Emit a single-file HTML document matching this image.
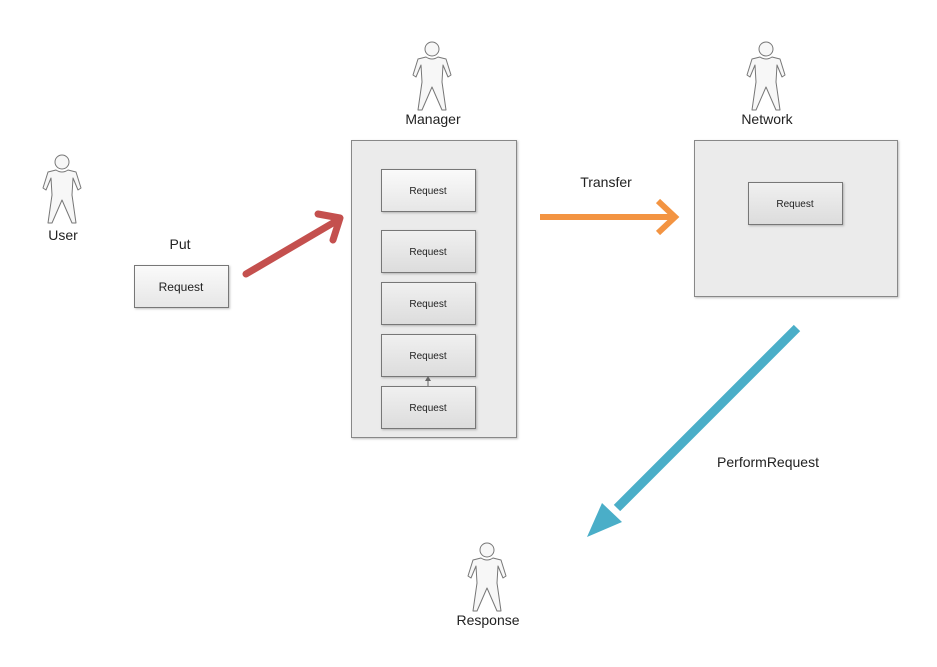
<!DOCTYPE html>
<html><head><meta charset="utf-8"><style>
html,body{margin:0;padding:0;background:#fff;}
svg{display:block;}
text{font-family:"Liberation Sans",sans-serif;fill:#222;}
</style></head><body>
<svg width="937" height="667" viewBox="0 0 937 667" xmlns="http://www.w3.org/2000/svg">
<defs>
<linearGradient id="rg" x1="0" y1="0" x2="0" y2="1"><stop offset="0" stop-color="#fafafa"/><stop offset="1" stop-color="#e6e6e6"/></linearGradient>
<linearGradient id="rg2" x1="0" y1="0" x2="0" y2="1"><stop offset="0" stop-color="#f0f0f0"/><stop offset="1" stop-color="#dcdcdc"/></linearGradient>
<g id="actor">
<circle cx="0" cy="0" r="7" fill="#f7f7f7" stroke="#777" stroke-width="1"/>
<path d="M-6,8 Q0,12 6,8 L14,10 L19,26 L16,28 L11,16 L10,33 L14,61 L10,61 L0,38 L-10,61 L-14,61 L-10,33 L-11,16 L-16,28 L-19,26 L-14,10 Z" fill="#f7f7f7" stroke="#777" stroke-width="1" stroke-linejoin="round"/>
</g>
<filter id="sh" x="-10%" y="-10%" width="130%" height="130%"><feDropShadow dx="1" dy="1" stdDeviation="1" flood-opacity="0.25"/></filter>
</defs>

<use href="#actor" x="432" y="49"/>
<text x="433" y="124" font-size="14" text-anchor="middle">Manager</text>
<use href="#actor" x="766" y="49"/>
<text x="767" y="124" font-size="14" text-anchor="middle">Network</text>
<use href="#actor" x="62" y="162"/>
<text x="63" y="240" font-size="14" text-anchor="middle">User</text>
<use href="#actor" x="487" y="550"/>
<text x="488" y="625" font-size="14" text-anchor="middle">Response</text>

<rect x="351.5" y="140.5" width="165" height="297" fill="#ebebeb" stroke="#888" filter="url(#sh)"/>
<rect x="381.5" y="169.5" width="94" height="42" fill="url(#rg)" stroke="#777" filter="url(#sh)"/>
<text x="428" y="194" font-size="10" text-anchor="middle">Request</text>
<rect x="381.5" y="230.5" width="94" height="42" fill="url(#rg2)" stroke="#777" filter="url(#sh)"/>
<text x="428" y="255" font-size="10" text-anchor="middle">Request</text>
<rect x="381.5" y="282.5" width="94" height="42" fill="url(#rg2)" stroke="#777" filter="url(#sh)"/>
<text x="428" y="307" font-size="10" text-anchor="middle">Request</text>
<rect x="381.5" y="334.5" width="94" height="42" fill="url(#rg2)" stroke="#777" filter="url(#sh)"/>
<text x="428" y="359" font-size="10" text-anchor="middle">Request</text>
<rect x="381.5" y="386.5" width="94" height="42" fill="url(#rg2)" stroke="#777" filter="url(#sh)"/>
<text x="428" y="411" font-size="10" text-anchor="middle">Request</text>
<line x1="428" y1="386" x2="428" y2="380" stroke="#666"/>
<polygon points="428,376 425,381 431,381" fill="#666"/>

<rect x="694.5" y="140.5" width="203" height="156" fill="#ebebeb" stroke="#888" filter="url(#sh)"/>
<rect x="748.5" y="182.5" width="94" height="42" fill="url(#rg2)" stroke="#777" filter="url(#sh)"/>
<text x="795" y="207" font-size="10" text-anchor="middle">Request</text>

<text x="180" y="249" font-size="14" text-anchor="middle">Put</text>
<rect x="134.5" y="265.5" width="94" height="42" fill="url(#rg)" stroke="#777" filter="url(#sh)"/>
<text x="181" y="291" font-size="12" text-anchor="middle">Request</text>

<g stroke="#c4504e" stroke-width="7" stroke-linecap="round" stroke-linejoin="round" fill="none">
<line x1="246" y1="274" x2="338" y2="220"/>
<polyline points="318,214 340,218 333,240"/>
</g>
<text x="606" y="187" font-size="14" text-anchor="middle">Transfer</text>
<g stroke="#f39442" stroke-width="6" fill="none">
<line x1="540" y1="217" x2="674" y2="217"/>
<polyline points="658,201 675,217 658,233"/>
</g>
<line x1="797" y1="328" x2="617" y2="508" stroke="#4aaec8" stroke-width="9"/>
<polygon points="587,537 602,503 622,522" fill="#4aaec8"/>
<text x="768" y="467" font-size="14" text-anchor="middle">PerformRequest</text>
</svg>
</body></html>
